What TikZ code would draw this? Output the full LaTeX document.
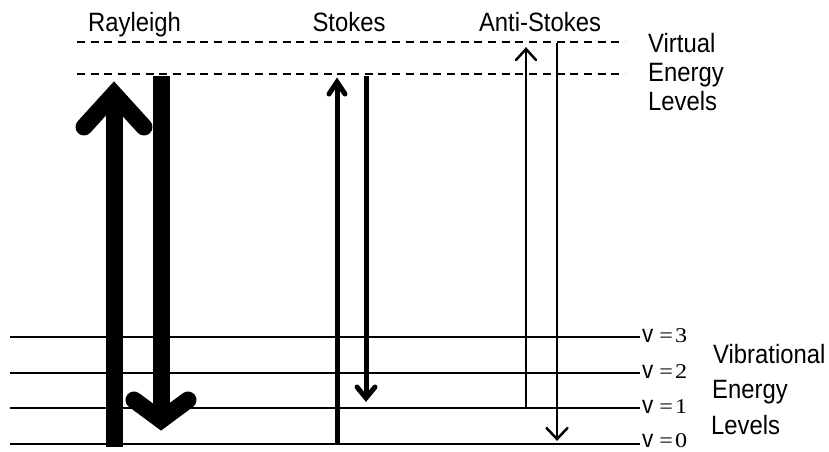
\documentclass[tikz,border=0pt]{standalone}
\usepackage{fontspec}
\setmainfont{Liberation Sans}
\newfontfamily\labelfont{Liberation Sans}[FakeStretch=0.9]
\newfontfamily\numfont{Liberation Serif}[FakeStretch=1.15]
\usetikzlibrary{calc}

\begin{document}
\begin{tikzpicture}[x=1pt,y=-1pt,
  level/.style={line width=1.8pt},
  virtlevel/.style={line width=1.8pt, dash pattern=on 8pt off 5.7pt},
  toplabel/.style={font=\labelfont\fontsize{26.5}{29}\selectfont, inner sep=0pt, anchor=base},
  sidelabel/.style={font=\labelfont\fontsize{26.5}{29}\selectfont, inner sep=0pt, anchor=base west},
  vlab/.style={inner sep=0pt, anchor=base west},
  heavyarrow/.style={line width=17pt},
  midarrow/.style={line width=5pt},
  lightarrow/.style={line width=2.5pt},
  chevron/.style={line cap=round, miter limit=10},
]
\useasboundingbox (0,0) rectangle (829,451);

% vibrational levels v = 0..3 (the lowest label sits a little higher to stay on the page)
\foreach \n/\y/\dy in {0/444/3,1/408/5,2/373/5,3/337/5} {
  \coordinate (L\n w) at (10,\y);
  \coordinate (L\n e) at (640,\y);
  \draw[level] (L\n w) -- (L\n e);
  \node[vlab] (v\n) at (642,\y+\dy)
    {{\labelfont\fontsize{25}{25}\selectfont v}\hspace{6pt}{\numfont\fontsize{21}{21}\selectfont =\hspace{2pt}\n}};
}

% virtual levels
\coordinate (V1w) at (77,42);  \coordinate (V1e) at (625,42);
\coordinate (V2w) at (77,74);  \coordinate (V2e) at (625,74);
\draw[virtlevel] (V1w) -- (V1e);
\draw[virtlevel] (V2w) -- (V2e);

% titles
\node[toplabel] (ray)  at (134.5,31) {Rayleigh};
\node[toplabel] (sto)  at (349,31)   {Stokes};
\node[toplabel] (anti) at (540,31)   {Anti-Stokes};

\node[sidelabel] (virt1) at (648,52)  {Virtual};
\node[sidelabel] (virt2) at (648,81)  {Energy};
\node[sidelabel] (virt3) at (648,110) {Levels};

\node[sidelabel] (vib1) at (713,363) {Vibrational};
\node[sidelabel] (vib2) at (712,398) {Energy};
\node[sidelabel] (vib3) at (711,434) {Levels};

% Rayleigh
\coordinate (rub) at (114,447); \coordinate (rut) at (114,94);
\draw[heavyarrow] (rub) -- (rut);
\draw[heavyarrow,chevron] ($(rut)+(-30,33)$) -- (rut) -- ($(rut)+(30,33)$);
\coordinate (rdt) at (161,76); \coordinate (rdb) at (161,420);
\draw[heavyarrow] (rdt) -- (rdb);
\draw[heavyarrow,chevron] ($(rdb)+(-27,-20)$) -- (rdb) -- ($(rdb)+(27,-20)$);

% Stokes
\coordinate (sub) at (337,445); \coordinate (sut) at (337,82);
\draw[midarrow] (sub) -- (sut);
\draw[midarrow,chevron] ($(sut)+(-8,12)$) -- (sut) -- ($(sut)+(8,12)$);
\coordinate (sdt) at (366,76); \coordinate (sdb) at (366,398);
\draw[midarrow] (sdt) -- (sdb);
\draw[midarrow,chevron] ($(sdb)+(-9,-11)$) -- (sdb) -- ($(sdb)+(9,-11)$);

% Anti-Stokes
\coordinate (aub) at (526,409); \coordinate (aut) at (526,49);
\draw[lightarrow] (aub) -- (aut);
\draw[lightarrow,chevron] ($(aut)+(-10,11)$) -- (aut) -- ($(aut)+(10,11)$);
\coordinate (adt) at (557,43); \coordinate (adb) at (557,439);
\draw[lightarrow] (adt) -- (adb);
\draw[lightarrow,chevron] ($(adb)+(-10.5,-11)$) -- (adb) -- ($(adb)+(10.5,-11)$);
\end{tikzpicture}
\end{document}
